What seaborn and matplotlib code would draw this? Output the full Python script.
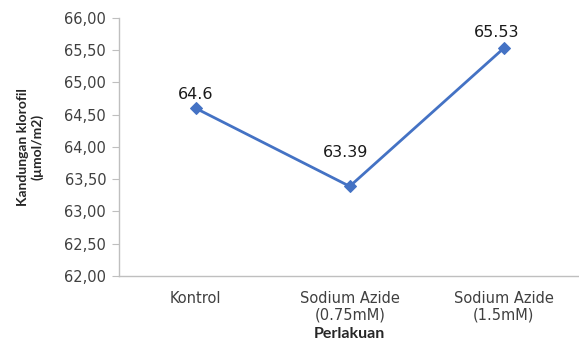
import matplotlib
matplotlib.use("Agg")
import matplotlib.pyplot as plt
import seaborn as sns
import pandas as pd
from matplotlib.ticker import FuncFormatter

perlakuan = ["Kontrol", "Sodium Azide\n(0.75mM)", "Sodium Azide\n(1.5mM)"]
klorofil = [64.6, 63.39, 65.53]
label_text = ["64.6", "63.39", "65.53"]
label_offsets = [(0, 10), (-3, 24), (-5, 11.5)]

df = pd.DataFrame({"perlakuan": perlakuan, "klorofil": klorofil})

sns.set_style("white")
plt.rcParams['font.family'] = ['DejaVu Sans']

fig = plt.figure(figsize=(5.79, 3.45), dpi=100)
ax = fig.add_axes([0.205, 0.2, 0.798, 0.748])

sns.lineplot(data=df, x="perlakuan", y="klorofil", ax=ax, sort=False,
             color="#4472C4", linewidth=2, marker="D", markersize=6,
             markeredgecolor="#4472C4")

for i, (v, t, off) in enumerate(zip(klorofil, label_text, label_offsets)):
    ax.annotate(t, (i, v), xytext=off, textcoords="offset points",
                ha="center", va="center", fontsize=11.5, color="#1a1a1a")

ax.set_xlim(-0.5, 2.5)
ax.set_ylim(62, 66)
ax.set_yticks([62 + 0.5 * k for k in range(9)])
ax.yaxis.set_major_formatter(FuncFormatter(lambda v, p: f"{v:.2f}".replace(".", ",")))

for s in ["top", "right"]:
    ax.spines[s].set_visible(False)
for s in ["left", "bottom"]:
    ax.spines[s].set_color("#BFBFBF")
    ax.spines[s].set_linewidth(1)

ax.tick_params(axis="y", left=True, length=5, color="#BFBFBF", labelsize=10.5,
               labelcolor="#404040", pad=4)
ax.tick_params(axis="x", bottom=False, labelsize=10.5, labelcolor="#404040", pad=7)

ax.set_xlabel("Perlakuan", fontsize=11.5, fontweight="bold", family="Lato", labelpad=3)
ax.set_ylabel("Kandungan klorofil\n(µmol/m2)", fontsize=10, fontweight="bold",
              family="Lato", labelpad=15)

fig.savefig("out.png", dpi=100)
